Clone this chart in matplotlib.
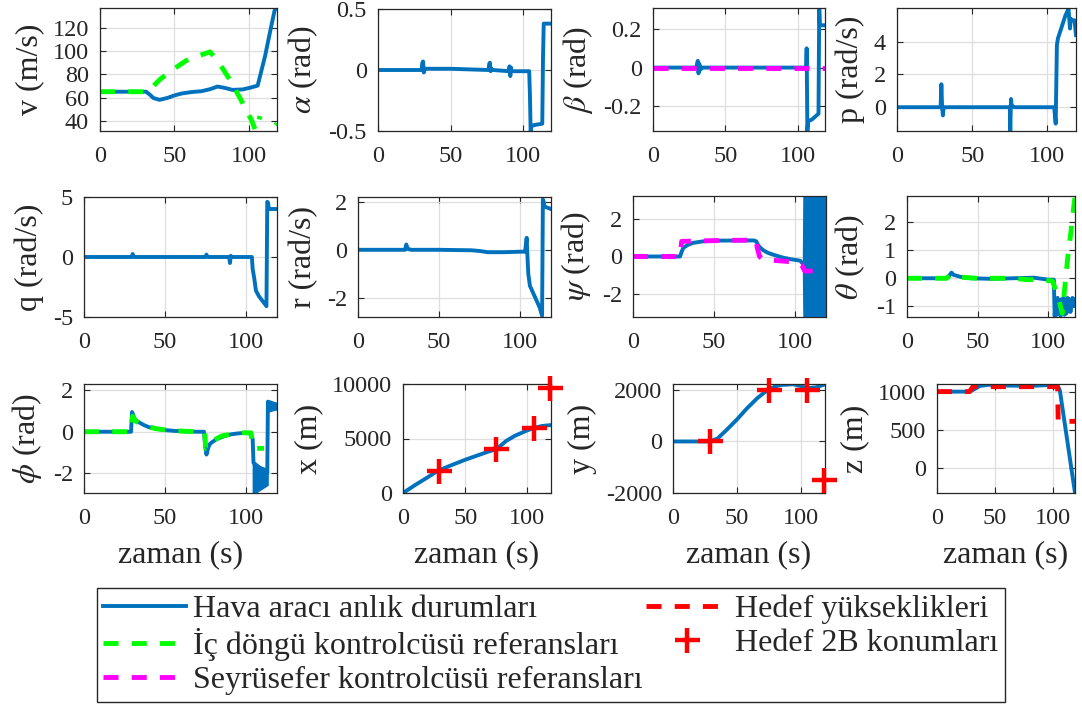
import numpy as np
import matplotlib
matplotlib.use('Agg')
import matplotlib.pyplot as plt
import matplotlib as mpl
from matplotlib.lines import Line2D
from matplotlib.ticker import FormatStrFormatter

# matplotlib settings (MATLAB-like look)
mpl.rcParams['font.family'] = 'serif'
mpl.rcParams['font.serif'] = ['Liberation Serif', 'DejaVu Serif']
mpl.rcParams['mathtext.fontset'] = 'stix'
mpl.rcParams['axes.unicode_minus'] = False
mpl.rcParams['font.size'] = 17

BLUE = '#0072BD'
GREEN = '#00FF00'
MAGENTA = '#FF00FF'
RED = '#FF0000'
DARK = '#262626'

W, H = 1082, 713
T_END = 119

# ---- data ----
# v (m/s)
v_t = [0, 31, 33, 36, 40, 45, 50, 55, 62, 68, 74, 79, 84, 89, 96, 101, 106, 111, 115, 117.5, 119]
v_val = [65, 65, 63, 59.5, 58, 59.5, 61.8, 63.5, 64.8, 65.4, 67.2, 69.5, 68.3, 66.6, 67, 68.5, 70.3, 96, 121, 136, 137]
v_ref_t = [0, 32, 40.6, 50, 58, 66, 74, 80, 88, 96, 102, 104.5, 105.5, 106.5, 107.5, 110, 118, 119]
v_ref = [65, 65, 76, 85, 92, 96, 99.5, 90, 74, 55, 40, 31.5, 33, 38, 44, np.nan, 36, 37.5]

# alpha (rad)
a_t = [0, 30, 30.5, 31, 31.5, 32, 33, 50, 76, 76.5, 77, 77.5, 78, 79, 90, 90.5, 91, 91.5, 92, 104,
       104.5, 105, 105.5, 108, 113, 113.5, 114, 119]
a_val = [0, 0, 0.06, 0.07, -0.02, 0.01, 0.01, 0.01, 0.0, 0.05, 0.06, -0.01, 0.01, 0.0, -0.01, 0.03, -0.05,
         0.02, -0.01, -0.01, -0.2, -0.5, -0.46, -0.45, -0.44, 0.1, 0.38, 0.38]

# beta (rad)
b_t = [0, 30, 30.5, 31, 31.5, 32, 33, 34, 60, 100, 106, 106.3, 106.8, 107.3, 110, 114.5, 115, 115.5, 119]
b_val = [0, 0, 0.02, 0.035, -0.03, 0.02, -0.01, 0, 0, 0, 0, 0.1, -0.33, -0.28, -0.27, -0.24, 0.31, 0.22, 0.22]
b_ref_t = [0, 119]
b_ref = [0, 0]

# p (rad/s)
p_t = [0, 29, 29.5, 30, 30.5, 31, 32, 75, 75.3, 75.8, 76.3, 77, 78, 104.5, 105.5, 106.3, 107, 112, 114,
       115, 115.5, 116.5, 118, 119]
p_val = [0, 0, 1.4, 0, -0.5, 0, 0, 0, -1.45, 0.5, 0, 0.05, 0, 0, -1.0, 3.8, 4.2, 5.6, 6.0, 4.8, 5.4, 5.3,
         5.3, 4.4]

# q (rad/s)
q_t = [0, 29.5, 30, 30.5, 31, 75, 75.5, 76, 76.5, 89.5, 90, 90.5, 91, 103.5, 104, 105, 106, 108, 112,
       112.5, 113, 113.5, 114, 119]
q_val = [0, 0, 0.25, 0.05, 0, 0, 0.2, 0.05, 0, 0, -0.5, 0.1, 0, 0, -1.0, -1.8, -2.8, -3.3, -4.0, -4.1,
         4.6, 4.5, 4.0, 4.0]

# r (rad/s)
r_t = [0, 29, 29.8, 30.5, 31.5, 33, 50, 70, 75, 80, 90, 100, 103, 104, 104.5, 105, 106, 108, 110, 112,
       113.5, 114, 114.5, 115, 119]
r_val = [0, 0, 0.22, 0.05, 0.02, 0, 0, -0.02, -0.05, -0.1, -0.1, -0.08, -0.08, 0.5, -0.3, -1.0, -1.5,
         -1.8, -2.1, -2.4, -2.75, 2.1, 2.0, 1.8, 1.7]

# psi (rad)
psi_t = [0, 29, 30, 31, 34, 37, 43, 50, 74.5, 76, 77.5, 80, 83, 87, 92, 97, 103, 105]
psi_val = [0, 0, 0.25, 0.46, 0.62, 0.72, 0.8, 0.84, 0.85, 0.8, 0.55, 0.35, 0.2, 0.08, -0.05, -0.14, -0.22, -0.4]
psi_band_t = [105, 105.3, 119]
psi_band_lo = [-0.4, -3.14, -3.14]
psi_band_hi = [-0.4, 3.14, 3.14]
psi_ref_t = [0, 29, 30, 50, 76, 76.5, 78, 80, 89, 95, 101, 104, 105.5, 106, 119]
psi_ref = [0, 0, 0.8, 0.84, 0.87, 0.5, 0.0, -0.15, -0.22, -0.26, -0.3, -0.45, -0.7, -0.77, -0.77]

# theta (rad)
th_t = [0, 28, 30, 31.5, 33, 38, 45, 60, 75, 90, 100, 104, 104.6, 105.3, 106, 106.7, 107.4, 108.1, 108.8,
        109.5, 110.2, 110.9, 111.6, 112.3, 113, 113.7, 114.4, 115.1, 115.8, 116.5, 117.2, 117.9, 118.6, 119]
th_val = [0, 0, 0.1, 0.2, 0.12, 0.05, 0.0, -0.02, 0.0, 0.02, -0.05, -0.05, -1.35, -0.75, -1.3, -0.7,
          -1.25, -0.8, -1.35, -0.75, -1.2, -0.7, -1.3, -0.8, -1.25, -0.7, -1.1, -0.75, -1.2, -0.8, -0.7,
          -1.0, -0.75, -0.85]
th_ref_t = [0, 28, 31, 35, 40, 50, 75, 85, 95, 103, 106, 108, 110, 112, 114, 116, 118, 119]
th_ref = [0, 0, 0.12, 0.08, 0.03, 0.0, 0.0, -0.05, -0.05, -0.1, -0.5, -0.85, -1.25, -0.2, 0.8, 1.6, 2.5, 2.9]

# phi (rad)
phi_t = [0, 29, 29.6, 30.2, 31, 32, 34, 37, 40, 44, 50, 56, 62, 70, 74, 74.5, 75.5, 76.5, 77.5, 79, 82,
         87, 91, 95, 100, 103, 104, 104.5, 113, 113.4, 119]
phi_val = [0, 0, 0.95, 0.85, 0.65, 0.55, 0.45, 0.32, 0.22, 0.15, 0.08, 0.04, 0.02, 0, 0, -0.5, -1.1, -0.8,
           -0.6, -0.5, -0.35, -0.2, -0.12, -0.08, -0.05, -0.1, -0.35, -1.5, -2.0, 1.45, 1.3]
phi_band_t = [104.3, 105.5, 107, 109, 111, 113]
phi_band_lo = [-2.9, -2.95, -2.85, -2.75, -2.65, -2.55]
phi_band_hi = [-1.4, -1.55, -1.65, -1.7, -1.75, -1.8]
phi_band2_t = [113.4, 114, 116, 119]
phi_band2_lo = [1.0, 1.0, 1.05, 1.1]
phi_band2_hi = [1.5, 1.45, 1.4, 1.35]
phi_ref_t = [0, 29, 30, 32, 36, 44, 55, 70, 74.5, 75, 76.5, 79, 85, 95, 103, 104, 105, 111]
phi_ref = [0, 0, 0.75, 0.5, 0.35, 0.15, 0.05, 0, 0, -0.8, -0.75, -0.45, -0.2, -0.05, -0.05, -0.7, -0.8, -0.8]

# x, y (m) and 2D targets
x_t = [0, 10, 20, 28, 40, 50, 60, 70, 75, 83, 90, 100, 106, 112, 119]
x_val = [0, 750, 1450, 2050, 2600, 3050, 3450, 3850, 4000, 4780, 5250, 5750, 6000, 6150, 6230]
y_t = [0, 29, 35, 42, 50, 58, 66, 74, 80, 84, 94, 100, 105, 112, 119]
y_val = [0, 0, 120, 450, 850, 1290, 1680, 2000, 2130, 2190, 2220, 2150, 2065, 2100, 2220]
tgt_t = [29, 75, 105, 118.5]
tgt_x = [2000, 4000, 6000, 9600]
tgt_y = [0, 2000, 2000, -1500]

# z (m) and target altitudes
z_t = [0, 28, 32, 37, 45, 60, 80, 95, 103, 105, 106, 119]
z_val = [1000, 1000, 1030, 1075, 1090, 1080, 1075, 1085, 1070, 1050, 1010, -330]
z_ref_t = [0, 28, 31, 104, 104.5, 119]
z_ref = [1000, 1000, 1065, 1065, 610, 610]


def box(l, t, r, b):
    return [l / W, 1 - b / H, (r - l) / W, (b - t) / H]


fig = plt.figure(figsize=(W / 100, H / 100), dpi=100)

lw_state = 2.8
lw_ref = 3.5
dash = (3.1, 2.7)


def style(ax, ylabel, yticks, ylim, xlabel=False, fmt=None):
    ax.set_xlim(0, T_END)
    ax.set_ylim(*ylim)
    ax.set_xticks([0, 50, 100])
    ax.set_yticks(yticks)
    if fmt:
        ax.yaxis.set_major_formatter(FormatStrFormatter(fmt))
    ax.grid(True, color='#dedede', lw=0.9)
    ax.set_axisbelow(True)
    ax.tick_params(direction='in', top=True, right=True, length=4, width=0.8,
                   colors=DARK, labelsize=17.5)
    ax.tick_params(axis='x', pad=11)
    ax.tick_params(axis='y', pad=8)
    for s in ax.spines.values():
        s.set_color(DARK)
        s.set_linewidth(0.9)
    ax.set_ylabel(ylabel, fontsize=23, color=DARK, labelpad=6)
    if xlabel:
        ax.set_xlabel('zaman (s)', fontsize=23, color=DARK, labelpad=8)


def state(ax, t, y):
    ax.plot(t, y, color=BLUE, lw=lw_state, solid_joinstyle='round')


def ref(ax, t, y, c):
    ax.plot(t, y, color=c, lw=lw_ref, dashes=dash)


# row 1
ax = fig.add_axes(box(100, 8, 277, 131))
state(ax, v_t, v_val)
ref(ax, v_ref_t, v_ref, GREEN)
style(ax, 'v (m/s)', [40, 60, 80, 100, 120], (31, 137.5))

ax = fig.add_axes(box(378, 9, 551, 131))
state(ax, a_t, a_val)
style(ax, r'$\alpha$ (rad)', [-0.5, 0, 0.5], (-0.5, 0.5), fmt='%g')

ax = fig.add_axes(box(653, 8, 825, 131))
state(ax, b_t, b_val)
ref(ax, b_ref_t, b_ref, MAGENTA)
style(ax, r'$\beta$ (rad)', [-0.2, 0, 0.2], (-0.33, 0.31), fmt='%g')

ax = fig.add_axes(box(897, 8, 1076, 131))
state(ax, p_t, p_val)
style(ax, 'p (rad/s)', [0, 2, 4], (-1.45, 6.05))

# row 2
ax = fig.add_axes(box(84, 197, 277, 317))
state(ax, q_t, q_val)
style(ax, 'q (rad/s)', [-5, 0, 5], (-5, 5))

ax = fig.add_axes(box(358, 197, 551, 317))
state(ax, r_t, r_val)
style(ax, 'r (rad/s)', [-2, 0, 2], (-2.8, 2.2))

ax = fig.add_axes(box(633, 196, 826, 317))
state(ax, psi_t, psi_val)
ax.fill_between(psi_band_t, psi_band_lo, psi_band_hi, color=BLUE, lw=1.5, edgecolor=BLUE)
ref(ax, psi_ref_t, psi_ref, MAGENTA)
style(ax, r'$\psi$ (rad)', [-2, 0, 2], (-3.2, 3.2))

ax = fig.add_axes(box(907, 196, 1075, 317))
state(ax, th_t, th_val)
ref(ax, th_ref_t, th_ref, GREEN)
style(ax, r'$\theta$ (rad)', [-1, 0, 1, 2], (-1.38, 2.93))

# row 3
ax = fig.add_axes(box(84, 384, 277, 493))
state(ax, phi_t, phi_val)
ax.fill_between(phi_band_t, phi_band_lo, phi_band_hi, color=BLUE, lw=1.5, edgecolor=BLUE)
ax.fill_between(phi_band2_t, phi_band2_lo, phi_band2_hi, color=BLUE, lw=1.5, edgecolor=BLUE)
ref(ax, phi_ref_t, phi_ref, GREEN)
style(ax, r'$\phi$ (rad)', [-2, 0, 2], (-2.95, 2.3), xlabel=True)

ax = fig.add_axes(box(403, 384, 551, 493))
state(ax, x_t, x_val)
ax.plot(tgt_t, tgt_x, ls='none', marker='+', ms=18, mew=3.2, color=RED, clip_on=False, zorder=5)
style(ax, 'x (m)', [0, 5000, 10000], (0, 10000), xlabel=True)

ax = fig.add_axes(box(673, 384, 825, 493))
state(ax, y_t, y_val)
ax.plot(tgt_t, tgt_y, ls='none', marker='+', ms=18, mew=3.2, color=RED, clip_on=False, zorder=5)
style(ax, 'y (m)', [-2000, 0, 2000], (-2000, 2230), xlabel=True)

ax = fig.add_axes(box(937, 384, 1075, 493))
state(ax, z_t, z_val)
ref(ax, z_ref_t, z_ref, RED)
style(ax, 'z (m)', [0, 500, 1000], (-330, 1100), xlabel=True)

# legend
handles = [
    Line2D([], [], color=BLUE, lw=lw_state),
    Line2D([], [], color=GREEN, lw=lw_ref, dashes=dash),
    Line2D([], [], color=MAGENTA, lw=lw_ref, dashes=dash),
    Line2D([], [], color=RED, lw=lw_ref, dashes=dash),
    Line2D([], [], color=RED, ls='none', marker='+', ms=18, mew=3.2),
]
labels = ['Hava aracı anlık durumları',
          'İç döngü kontrolcüsü referansları',
          'Seyrüsefer kontrolcüsü referansları',
          'Hedef yükseklikleri',
          'Hedef 2B konumları']
leg = fig.legend(handles, labels, loc='upper left', ncol=2, mode='expand',
                 bbox_to_anchor=(97 / W, 1 - 705 / H, (1005 - 97) / W, (705 - 588) / H),
                 borderaxespad=0, fontsize=23, handlelength=2.6, handletextpad=0.2,
                 labelspacing=0.14, borderpad=0.2, fancybox=False, framealpha=1)
leg.get_frame().set_edgecolor(DARK)
leg.get_frame().set_linewidth(1.0)
for txt in leg.get_texts():
    txt.set_color(DARK)

fig.savefig('out.png', dpi=100)
